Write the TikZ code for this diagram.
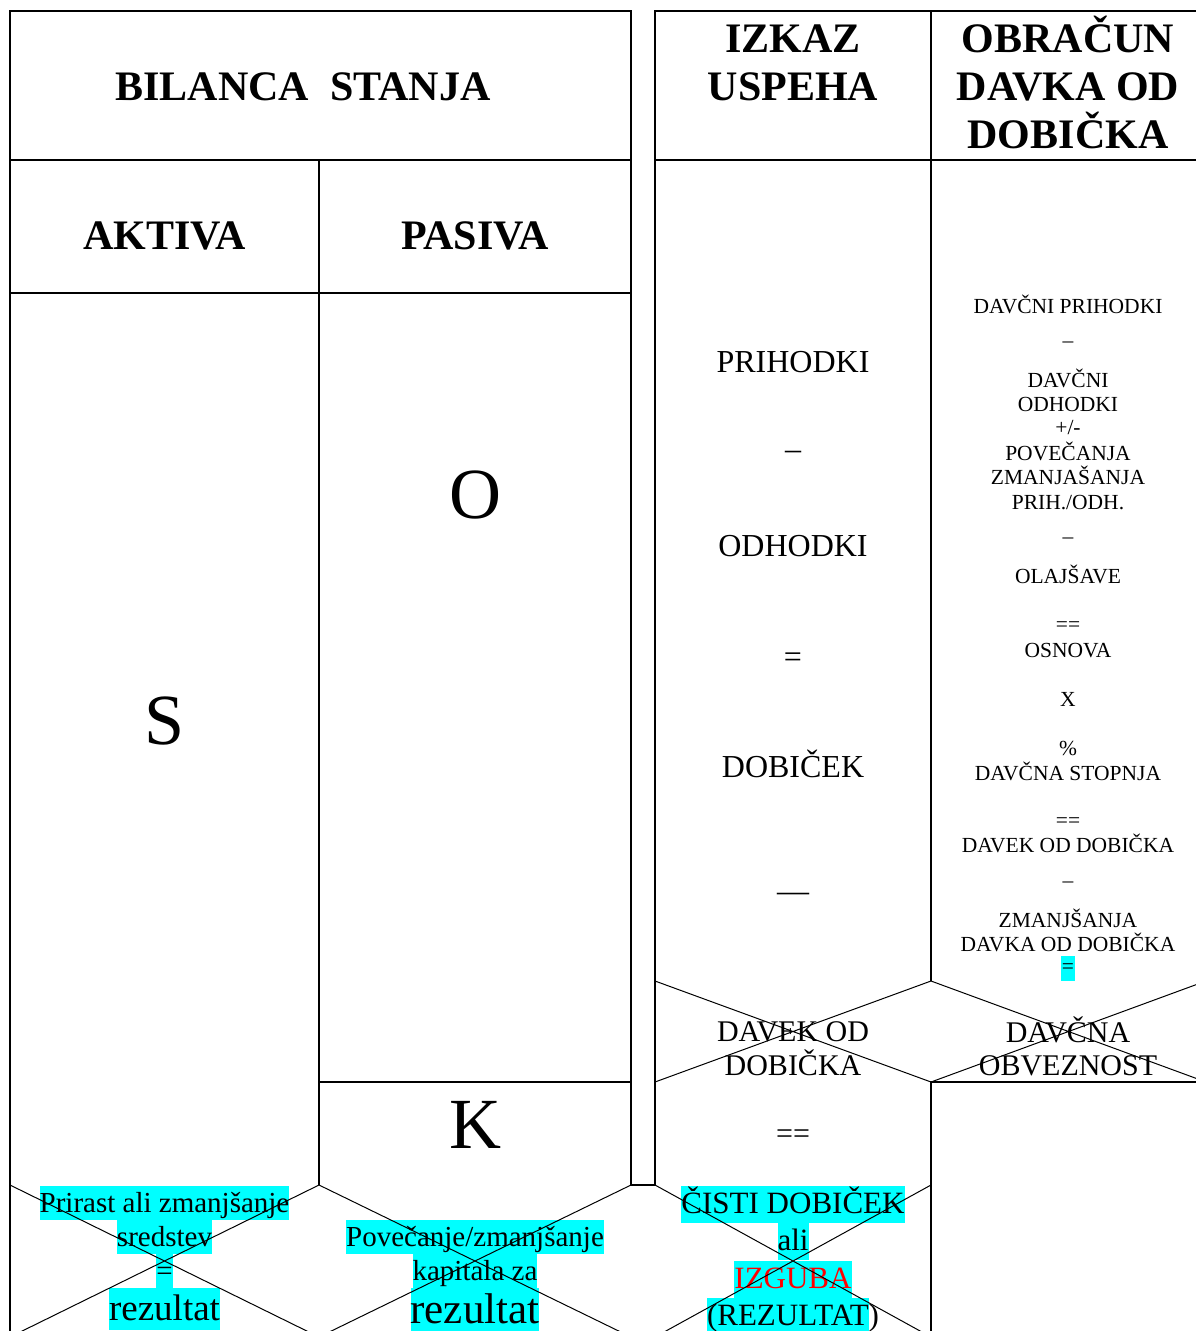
\documentclass[tikz,border=0pt]{standalone}
\usepackage{fontspec}
\setmainfont{Liberation Serif}
\newcommand\myfs[1]{\fontsize{#1}{#1}\selectfont}
\definecolor{hlcyan}{RGB}{0,255,255}
\definecolor{hlred}{RGB}{255,0,0}
\begin{document}
\begin{tikzpicture}[x=1pt,y=-1pt,
  border/.style={line width=2.3pt},
  diag/.style={line width=1pt},
  txt/.style={anchor=base, inner sep=0pt},
  hd/.style={txt, font=\myfs{42}\bfseries},
  big/.style={txt, font=\myfs{72}},
  mid/.style={txt, font=\myfs{32}},
  cell/.style={txt, font=\myfs{30}},
  small/.style={txt, font=\myfs{21.5}},
  hlA/.style={txt, fill=hlcyan, font=\myfs{29}, text height=26pt, text depth=8pt},
  hlR/.style={txt, fill=hlcyan, font=\myfs{37}, text height=32pt, text depth=10pt},
  hlRR/.style={txt, fill=hlcyan, font=\myfs{43}, text height=35pt, text depth=10pt},
  hlC/.style={txt, fill=hlcyan, font=\myfs{31}, text height=27pt, text depth=10pt},
  hlS/.style={txt, fill=hlcyan, font=\myfs{21.5}, inner xsep=1pt, text height=17pt, text depth=8pt}]
\useasboundingbox (0,0) rectangle (1196,1331);
\clip (0,0) rectangle (1196,1331);
\fill[white] (0,0) rectangle (1196,1331);

% table borders
\draw[border] (10,1345) -- (10,11) -- (631,11) -- (631,1185) -- (655,1185) -- (655,11) -- (1215,11);
\draw[border] (10,160) -- (631,160);
\draw[border] (10,293) -- (631,293);
\draw[border] (319,160) -- (319,1185);
\draw[border] (319,1082) -- (631,1082);
\draw[border] (655,160) -- (1215,160);
\draw[border] (931,11) -- (931,981);
\draw[border] (931,1345) -- (931,1082) -- (1215,1082);

% headings
\node[hd] (bs) at (303,100) {BILANCA\ \ STANJA};
\node[hd] (ak) at (164.5,249) {AKTIVA};
\node[hd] (pa) at (475,249) {PASIVA};
\node[hd] (iz1) at (793,52) {IZKAZ};
\node[hd] (iz2) at (793,100) {USPEHA};
\node[hd] (ob1) at (1068,52) {OBRAČUN};
\node[hd] (ob2) at (1068,100) {DAVKA OD};
\node[hd] (ob3) at (1068,148) {DOBIČKA};

% big letters
\node[big] (s) at (164.5,744) {S};
\node[big] (o) at (475,518) {O};
\node[big] (k) at (475,1148) {K};

% izkaz uspeha
\node[mid] (u1) at (793,372) {PRIHODKI};
\node[mid] (u2) at (793,459) {\textendash};
\node[mid] (u3) at (793,556) {ODHODKI};
\node[mid] (u4) at (793,667) {=};
\node[mid] (u5) at (793,777) {DOBIČEK};
\node[mid] (u6) at (793,901) {\textemdash};
\node[cell] (u7) at (793,1041) {DAVEK OD};
\node[cell] (u8) at (793,1075) {DOBIČKA};
\node[cell] (u9) at (793,1143) {==};

% obracun davka
\node[small] (d1) at (1068,313) {DAVČNI PRIHODKI};
\node[small] (d2) at (1068,347) {\textendash};
\node[small] (d3) at (1068,387) {DAVČNI};
\node[small] (d4) at (1068,411) {ODHODKI};
\node[small] (d5) at (1068,434) {+/-};
\node[small] (d6) at (1068,460) {POVEČANJA};
\node[small] (d7) at (1068,484) {ZMANJAŠANJA};
\node[small] (d8) at (1068,509) {PRIH./ODH.};
\node[small] (d9) at (1068,543) {\textendash};
\node[small] (d10) at (1068,583) {OLAJŠAVE};
\node[small] (d11) at (1068,631) {==};
\node[small] (d12) at (1068,657) {OSNOVA};
\node[small] (d13) at (1068,706) {X};
\node[small] (d14) at (1068,755) {\%};
\node[small] (d15) at (1068,780) {DAVČNA STOPNJA};
\node[small] (d16) at (1068,827) {==};
\node[small] (d17) at (1068,852) {DAVEK OD DOBIČKA};
\node[small] (d18) at (1068,887) {\textendash};
\node[small] (d19) at (1068,927) {ZMANJŠANJA};
\node[small] (d20) at (1068,951) {DAVKA OD DOBIČKA};
\node[hlS] (d21) at (1068,973) {=};
\node[cell] (d22) at (1068,1042) {DAVČNA};
\node[cell] (d23) at (1068,1075) {OBVEZNOST};

% bottom left
\node[hlA] (p1) at (164.5,1212) {Prirast ali zmanjšanje};
\node[hlA] (p2) at (164.5,1246) {sredstev};
\node[hlA] (p3) at (164.5,1280) {=};
\node[hlR] (p4) at (164.5,1320) {rezultat};
\node[hlA] (q1) at (475,1246) {Povečanje/zmanjšanje};
\node[hlA] (q2) at (475,1280) {kapitala za};
\node[hlRR] (q3) at (475,1323) {rezultat};

% cisti dobicek
\node[hlC] (c1) at (793,1213) {ČISTI DOBIČEK};
\node[hlC] (c2) at (793,1250) {ali};
\node[hlC, text=hlred] (c3) at (793,1288) {IZGUBA};
\node[txt, font=\myfs{31}] (c4) at (793,1325) {\setlength\fboxsep{0pt}\colorbox{hlcyan}{\rule[-10pt]{0pt}{37pt}(REZULTAT})};

% diagonals
\draw[diag] (10,1185) -- (319,1337) (319,1185) -- (10,1337);
\draw[diag] (319,1185) -- (631,1337) (631,1185) -- (319,1337);
\draw[diag] (655,1185) -- (931,1337) (931,1185) -- (655,1337);
\draw[diag] (655,981) -- (931,1082) (655,1082) -- (931,981);
\draw[diag] (931,981) -- (1206,1082) (931,1082) -- (1206,981);
\end{tikzpicture}
\end{document}
